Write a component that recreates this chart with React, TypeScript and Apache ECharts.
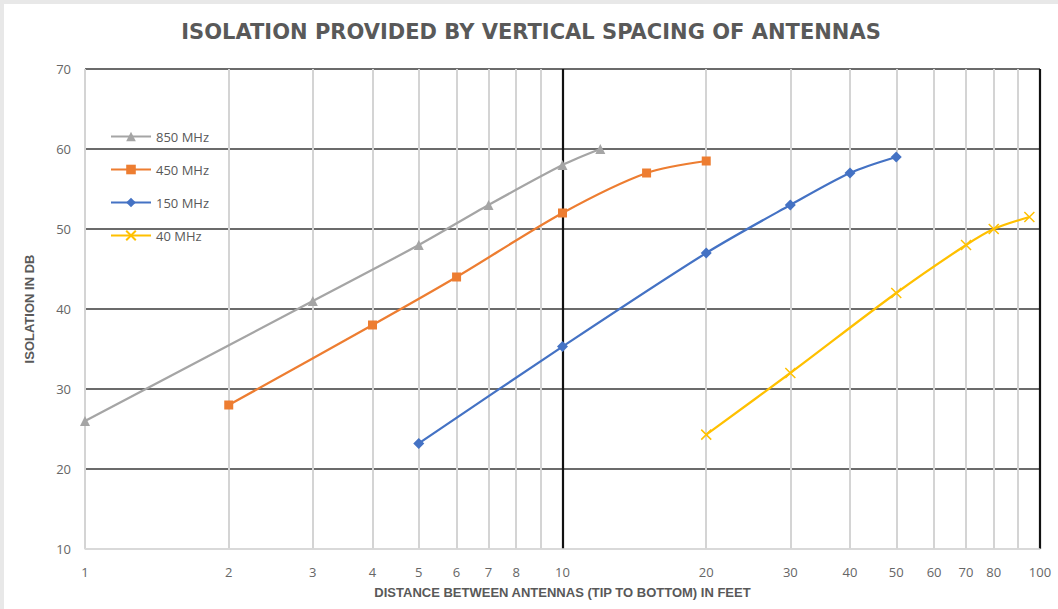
import React, { useEffect, useRef } from "react";
import * as echarts from "echarts";

const title = "ISOLATION PROVIDED BY VERTICAL SPACING OF ANTENNAS";
const xAxisName = "DISTANCE BETWEEN ANTENNAS (TIP TO BOTTOM) IN FEET";
const yAxisName = "ISOLATION IN DB";

const xTickLabels = [1, 2, 3, 4, 5, 6, 7, 8, 10, 20, 30, 40, 50, 60, 70, 80, 100];
const minorGridValues = [1, 2, 3, 4, 5, 6, 7, 8, 9, 20, 30, 40, 50, 60, 70, 80, 90];
const majorGridValues = [10, 100];

const seriesNames = ["850 MHz", "450 MHz", "150 MHz", "40 MHz"];
const seriesColors = ["#A5A5A5", "#ED7D31", "#4472C4", "#FFC000"];

const d850: [number, number][] = [[1, 26], [3, 41], [5, 48], [7, 53], [10, 58], [12, 60]];
const d450: [number, number][] = [[2, 28], [4, 38], [6, 44], [10, 52], [15, 57], [20, 58.5]];
const d150: [number, number][] = [[5, 23.2], [10, 35.3], [20, 47], [30, 53], [40, 57], [50, 59]];
const d40: [number, number][] = [[20, 24.3], [30, 32], [50, 42], [70, 48], [80, 50], [95, 51.5]];

const seriesData = [d850, d450, d150, d40];
const symbols = ["triangle", "rect", "diamond", "path://M0,0L10,10M10,0L0,10"];
const symbolSizes = [10, 9, 11, 10];

export default function App() {
  const ref = useRef<HTMLDivElement>(null);
  useEffect(() => {
    if (!ref.current) return;
    const chart = echarts.init(ref.current, null, { renderer: "svg" });
    const series = seriesNames.map((name, i) => ({
      name,
      type: "line",
      xAxisIndex: 0,
      yAxisIndex: 0,
      data: seriesData[i],
      smooth: 0.3,
      symbol: symbols[i],
      symbolSize: symbolSizes[i],
      showSymbol: true,
      lineStyle: { color: seriesColors[i], width: 2.25 },
      itemStyle:
        i === 3
          ? { color: seriesColors[i], borderColor: seriesColors[i], borderWidth: 1.5 }
          : { color: seriesColors[i], borderWidth: 0 },
      z: 10,
    }));
    chart.setOption({
      animation: false,
      backgroundColor: "#ffffff",
      title: {
        text: title,
        left: "center",
        top: 12,
        textStyle: {
          fontFamily: "DejaVu Sans",
          fontWeight: "bold",
          fontSize: 21,
          color: "#595959",
        },
      },
      legend: {
        orient: "vertical",
        left: 101,
        top: 121,
        itemWidth: 40,
        itemHeight: 12,
        itemGap: 20,
        data: seriesNames,
        textStyle: { fontFamily: "Open Sans", fontSize: 13, color: "#595959" },
      },
      grid: { left: 81, right: 18, top: 65, bottom: 60, containLabel: false },
      xAxis: [
        {
          type: "log",
          logBase: 10,
          min: 1,
          max: 100,
          name: xAxisName,
          nameLocation: "middle",
          nameGap: 37,
          nameTextStyle: {
            fontFamily: "Liberation Sans Narrow, Arial Narrow, sans-serif",
            fontWeight: "bold",
            fontSize: 13,
            color: "#595959",
          },
          axisLine: { show: true, onZero: false, lineStyle: { color: "#d9d9d9", width: 1.5 } },
          axisTick: { show: false, customValues: minorGridValues },
          axisLabel: {
            customValues: xTickLabels,
            formatter: (v: number) => String(Math.round(v)),
            margin: 16,
            fontFamily: "Open Sans",
            fontSize: 13,
            color: "#666666",
          },
          splitLine: { show: true, lineStyle: { color: "#d4d4d4", width: 2 } },
        },
        {
          type: "log",
          logBase: 10,
          min: 1,
          max: 100,
          position: "bottom",
          axisLine: { show: false },
          axisTick: { show: false, customValues: majorGridValues },
          axisLabel: { show: false },
          splitLine: { show: true, lineStyle: { color: "#111111", width: 2.2 } },
        },
      ],
      yAxis: {
        type: "value",
        min: 10,
        max: 70,
        interval: 10,
        name: yAxisName,
        nameLocation: "middle",
        nameGap: 49,
        nameTextStyle: {
          fontFamily: "Liberation Sans Narrow, Arial Narrow, sans-serif",
          fontWeight: "bold",
          fontSize: 13,
          color: "#595959",
        },
        axisLine: { show: false },
        axisTick: { show: false },
        axisLabel: { margin: 14, fontFamily: "Open Sans", fontSize: 13, color: "#666666" },
        splitLine: {
          show: true,
          lineStyle: {
            color: ["#d9d9d9", "#6b6b6b", "#6b6b6b", "#6b6b6b", "#6b6b6b", "#6b6b6b", "#6b6b6b"],
            width: 2,
          },
        },
      },
      series,
    });
    return () => chart.dispose();
  }, []);
  return (
    <div
      style={{
        position: "fixed",
        left: 0,
        top: 0,
        width: 1058,
        height: 609,
        background: "#e8e8e8",
      }}
    >
      <div
        ref={ref}
        style={{ position: "absolute", left: 4, top: 4, width: 1054, height: 605, background: "#fff" }}
      />
    </div>
  );
}
